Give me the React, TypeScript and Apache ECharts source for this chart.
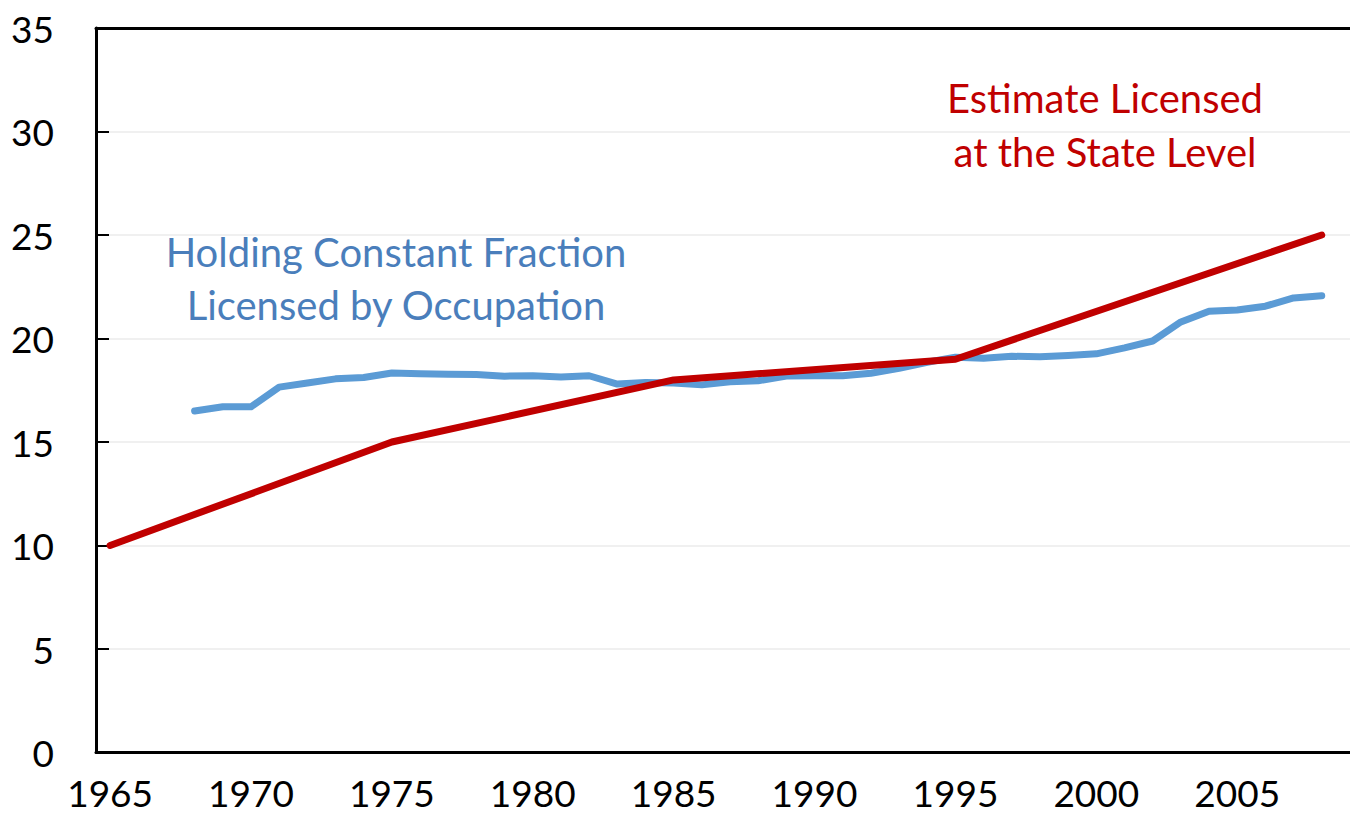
import React, { useEffect, useRef } from "react";
import * as echarts from "echarts";

const years: string[] = [
  "1965","1966","1967","1968","1969","1970","1971","1972","1973","1974",
  "1975","1976","1977","1978","1979","1980","1981","1982","1983","1984",
  "1985","1986","1987","1988","1989","1990","1991","1992","1993","1994",
  "1995","1996","1997","1998","1999","2000","2001","2002","2003","2004",
  "2005","2006","2007","2008","2009",
];

const constantFraction: (number | null)[] = [
  null, null, null, 16.5, 16.7, 16.7, 17.65, 17.85, 18.05, 18.12,
  18.33, 18.3, 18.27, 18.26, 18.18, 18.2, 18.14, 18.2, 17.8, 17.88,
  17.85, 17.76, 17.91, 17.96, 18.19, 18.2, 18.2, 18.32, 18.56, 18.85,
  19.1, 19.05, 19.14, 19.12, 19.18, 19.26, 19.55, 19.88, 20.8, 21.32,
  21.38, 21.56, 21.96, 22.06, null,
];

const stateLevel: (number | null)[] = [
  10, null, null, null, null, null, null, null, null, null,
  15, null, null, null, null, null, null, null, null, null,
  18, null, null, null, null, null, null, null, null, null,
  19, null, null, null, null, null, null, null, null, null,
  null, null, null, 25, null,
];

const blueLabel = ["Holding Constant Fraction", "Licensed by Occupation"];
const redLabel = ["Estimate Licensed", "at the State Level"];

const FONT = "Lato, Calibri, Carlito, sans-serif";

export default function App() {
  const ref = useRef<HTMLDivElement>(null);
  useEffect(() => {
    if (!ref.current) return;
    const chart = echarts.init(ref.current, null, { renderer: "svg" });
    const textEl = (x: number, y: number, text: string, fill: string) => ({
      type: "text",
      x,
      y,
      style: {
        text,
        fill,
        font: `40px ${FONT}`,
        align: "center",
        verticalAlign: "middle",
      },
    });
    chart.setOption({
      animation: false,
      backgroundColor: "#ffffff",
      grid: {
        left: 96,
        top: 28,
        bottom: 62.5,
        right: -14,
        outerBoundsMode: "none",
        containLabel: false,
        show: false,
      },
      xAxis: [
        {
          type: "category",
          data: years,
          boundaryGap: true,
          axisLine: { lineStyle: { color: "#000000", width: 3 } },
          axisTick: {
            inside: true,
            length: 13,
            interval: (i: number) => i % 5 === 0,
            lineStyle: { color: "#000000", width: 2 },
          },
          axisLabel: {
            interval: (i: number) => i % 5 === 0,
            color: "#000000",
            fontFamily: FONT,
            fontSize: 37,
            lineHeight: 34,
            margin: 23,
          },
          splitLine: { show: false },
          z: 5,
        },
        {
          type: "category",
          data: years,
          position: "top",
          boundaryGap: true,
          axisLine: { show: true, lineStyle: { color: "#000000", width: 3 } },
          axisTick: { show: false },
          axisLabel: { show: false },
          splitLine: { show: false },
          z: 5,
        },
      ],
      yAxis: {
        type: "value",
        min: 0,
        max: 35,
        interval: 5,
        axisLine: { show: true, lineStyle: { color: "#000000", width: 3 } },
        axisTick: {
          show: true,
          inside: true,
          length: 13,
          lineStyle: { color: "#000000", width: 2 },
        },
        axisLabel: {
          color: "#000000",
          fontFamily: FONT,
          fontSize: 37,
          margin: 42,
        },
        splitLine: { show: true, lineStyle: { color: "#ebebeb", width: 1.5 } },
      },
      series: [
        {
          type: "line",
          name: "Holding Constant Fraction Licensed by Occupation",
          data: constantFraction,
          showSymbol: false,
          symbol: "none",
          lineStyle: { color: "#5B9BD5", width: 7, cap: "round", join: "round" },
          itemStyle: { color: "#5B9BD5" },
          z: 3,
        },
        {
          type: "line",
          name: "Estimate Licensed at the State Level",
          data: stateLevel,
          connectNulls: true,
          showSymbol: false,
          symbol: "none",
          lineStyle: { color: "#C00000", width: 7, cap: "round", join: "round" },
          itemStyle: { color: "#C00000" },
          z: 4,
        },
      ],
      graphic: [
        textEl(396, 252, blueLabel[0], "#4A7EBB"),
        textEl(396, 305, blueLabel[1], "#4A7EBB"),
        textEl(1105, 98, redLabel[0], "#C00000"),
        textEl(1105, 152, redLabel[1], "#C00000"),
      ],
    });
    return () => chart.dispose();
  }, []);
  return (
    <div
      ref={ref}
      style={{ position: "fixed", left: 0, top: 0, width: 1350, height: 815, overflow: "hidden" }}
    />
  );
}
